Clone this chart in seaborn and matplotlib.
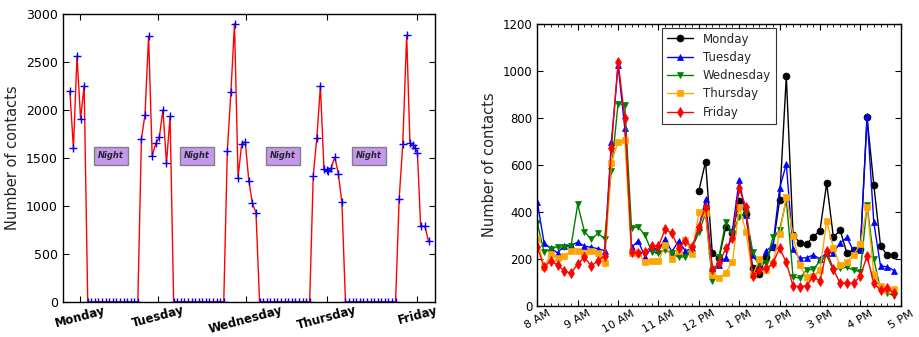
import numpy as np
import pandas as pd
import matplotlib
matplotlib.use("Agg")
import matplotlib.pyplot as plt
import seaborn as sns

# ---------------- weekly contacts (hour of week, Monday 00:00 = 0) ----------------
mon_hours = [12, 13, 14, 15, 16]
mon_contacts = [2200, 1600, 2565, 1910, 2250]
tue_hours = [32, 33, 34, 35, 36, 37, 38, 39, 40]
tue_contacts = [1700, 1950, 2770, 1520, 1650, 1715, 2000, 1445, 1935]
wed_hours = [56, 57, 58, 59, 60, 61, 62, 63, 64]
wed_contacts = [1575, 2185, 2900, 1295, 1645, 1668, 1262, 1025, 930]
thu_hours = [80, 81, 82, 83, 83.75, 84.25, 85, 86, 87, 88]
thu_contacts = [1315, 1710, 2250, 1380, 1375, 1360, 1390, 1510, 1335, 1035]
fri_hours = [104, 105, 106.1, 107, 107.9, 108.5, 109.1, 110, 111.2, 112.2]
fri_contacts = [1075, 1640, 2780, 1660, 1630, 1605, 1555, 790, 785, 630]
# nights without any contact (first and last hour of each night)
night_spans = [(17, 31), (41, 55), (65, 79), (89, 103)]
night_label_hours = [23.5, 47.5, 71.5, 95.5]
day_names = ["Monday", "Tuesday", "Wednesday", "Thursday", "Friday"]
day_tick_hours = [14.9, 36.7, 61.1, 83.9, 109.1]

# ---------------- contacts per 10-minute slot, 8 AM to 5 PM ----------------
slot_hours = np.arange(8 * 60, 17 * 60, 10) / 60.0
monday = [490, 614, 223, 202, 335, 310, 447, 390, 160, 135, 209, 250, 450, 978,
          301, 269, 263, 294, 320, 522, 291, 323, 223, 237, 240, 803, 515, 256, 215, 217]
tuesday = [441, 268, 244, 226, 256, 257, 271, 254, 249, 243, 235, 697, 1025, 756,
           249, 277, 206, 250, 237, 284, 230, 277, 233, 245, 334, 453, 160, 173,
           205, 322, 536, 385, 215, 175, 235, 255, 500, 604, 240, 202, 205, 216,
           200, 225, 225, 268, 291, 234, 237, 810, 355, 169, 166, 150]
wednesday = [351, 230, 240, 252, 249, 254, 432, 316, 283, 308, 286, 576, 862, 856,
             330, 337, 300, 230, 225, 237, 223, 206, 209, 245, 313, 394, 105, 209,
             358, 308, 380, 394, 230, 178, 180, 291, 323, 451, 124, 117, 152, 155,
             190, 215, 150, 162, 163, 152, 145, 429, 198, 70, 55, 41]
thursday = [283, 163, 220, 202, 213, 233, 233, 223, 233, 223, 183, 610, 700, 706,
            223, 223, 185, 192, 192, 259, 199, 235, 280, 220, 398, 394, 131, 117,
            141, 188, 419, 316, 129, 198, 152, 180, 306, 465, 299, 173, 121, 127,
            152, 361, 245, 173, 188, 216, 262, 422, 135, 84, 67, 70]
friday = [249, 166, 192, 173, 149, 138, 178, 206, 169, 192, 212, 671, 1040, 800,
          227, 226, 227, 255, 255, 326, 308, 245, 277, 249, 337, 422, 155, 180,
          244, 287, 500, 422, 125, 152, 159, 180, 245, 185, 84, 81, 85, 124,
          105, 235, 155, 95, 98, 95, 127, 212, 95, 67, 74, 55]
hour_labels = ["8 AM", "9 AM", "10 AM", "11 AM", "12 PM",
               "1 PM", "2 PM", "3 PM", "4 PM", "5 PM"]

sns.set_style("ticks")
plt.rcParams["font.family"] = ["DejaVu Sans"]
plt.rcParams.update({
    "axes.edgecolor": "black",
    "axes.linewidth": 1.0,
    "xtick.direction": "in",
    "ytick.direction": "in",
    "xtick.top": True,
    "ytick.right": True,
    "xtick.color": "black",
    "ytick.color": "black",
    "xtick.major.size": 4,
    "ytick.major.size": 4,
    "xtick.minor.size": 2.5,
})

fig = plt.figure(figsize=(9.19, 3.37), dpi=100)
ax1 = fig.add_axes([0.0682, 0.1047, 0.4051, 0.8538])
ax2 = fig.add_axes([0.5847, 0.0929, 0.3954, 0.8350])

# ---- left panel: whole week ----
week_hours = list(mon_hours)
week_contacts = list(mon_contacts)
days_after = [(tue_hours, tue_contacts), (wed_hours, wed_contacts),
              (thu_hours, thu_contacts), (fri_hours, fri_contacts)]
for (start, end), (hrs, cnt) in zip(night_spans, days_after):
    night = list(range(start, end + 1))
    week_hours += night + list(hrs)
    week_contacts += [0] * len(night) + list(cnt)
week = pd.DataFrame({"hour": week_hours, "contacts": week_contacts})

sns.lineplot(data=week, x="hour", y="contacts", ax=ax1, color="red", lw=1,
             marker="+", markersize=5.5, markeredgecolor="blue",
             markeredgewidth=1, estimator=None)

for h in night_label_hours:
    ax1.text(h, 1520, "Night", ha="center", va="center", fontsize=6,
             fontweight="bold", fontstyle="italic",
             bbox=dict(boxstyle="square,pad=0.5", facecolor="#c597ed",
                       edgecolor="#808080", linewidth=1))

ax1.set_xlim(10, 114)
ax1.set_ylim(0, 3000)
ax1.set_yticks(range(0, 3001, 500))
ax1.set_xticks(day_tick_hours)
ax1.set_xticklabels(day_names, rotation=15, fontsize=8.5, fontweight="bold")
ax1.tick_params(axis="y", labelsize=9)
ax1.tick_params(axis="x", pad=1.5)
ax1.set_xlabel("")
ax1.set_ylabel("Number of contacts", fontsize=10.5)

# ---- right panel: daily profile ----
series = [
    ("Monday", slot_hours[24:], monday, "black", "o"),
    ("Tuesday", slot_hours, tuesday, "blue", "^"),
    ("Wednesday", slot_hours, wednesday, "green", "v"),
    ("Thursday", slot_hours, thursday, "orange", "s"),
    ("Friday", slot_hours, friday, "red", "d"),
]
for name, x, y, col, mk in series:
    sns.lineplot(x=x, y=y, ax=ax2, color=col, lw=1, marker=mk, markersize=5,
                 markeredgecolor=col, markeredgewidth=0.5, label=name,
                 estimator=None)

ax2.set_xlim(8, 17)
ax2.set_ylim(0, 1200)
ax2.set_yticks(range(0, 1201, 200))
ax2.set_xticks(range(8, 18))
ax2.set_xticklabels(hour_labels, rotation=30, fontsize=8)
ax2.set_xticks(slot_hours, minor=True)
ax2.tick_params(axis="x", which="minor", top=True, direction="in")
ax2.tick_params(axis="x", which="major", pad=2)
ax2.tick_params(axis="y", labelsize=8.5)
ax2.set_ylabel("Number of contacts", fontsize=10.5)
ax2.set_xlabel("")
leg = ax2.legend(loc="upper center", fontsize=8.5, frameon=True, fancybox=False,
                 borderaxespad=0.3, handlelength=2.2, labelspacing=0.45)
leg.get_frame().set_edgecolor("black")
leg.get_frame().set_linewidth(0.8)

fig.savefig("out.png", dpi=100)
